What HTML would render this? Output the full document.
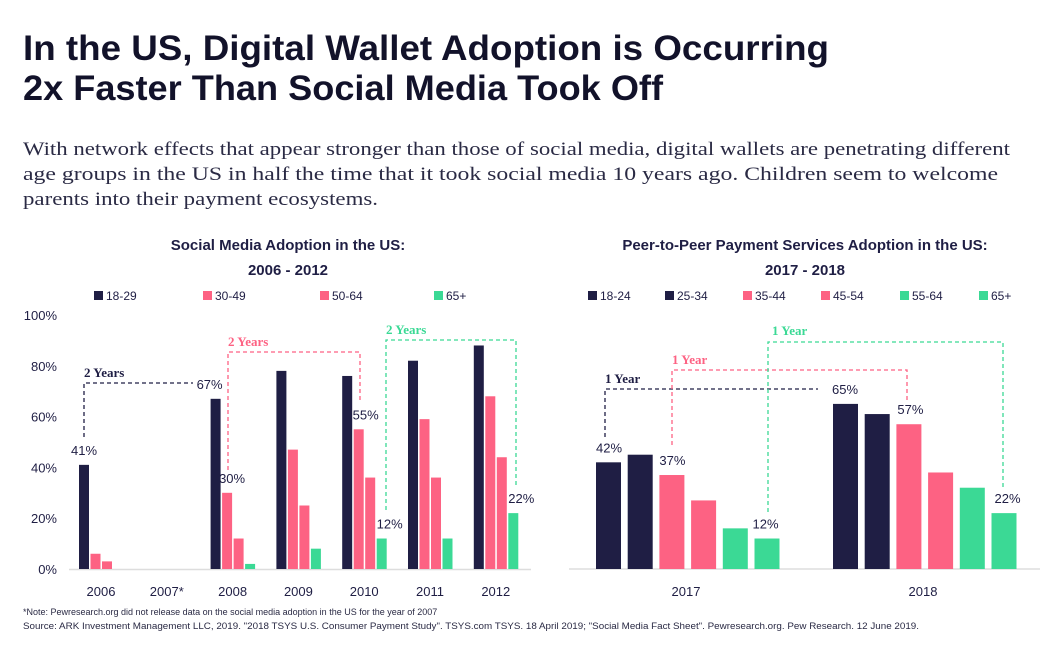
<!DOCTYPE html>
<html><head><meta charset="utf-8"><style>
html,body{margin:0;padding:0;background:#fff;}
svg{display:block;font-family:"Liberation Sans",sans-serif;}
</style></head><body>
<svg id="root" width="1051" height="648" viewBox="0 0 1051 648">
<g>
<text x="23" y="60" font-size="35" font-weight="bold" fill="#12122a" textLength="806" lengthAdjust="spacingAndGlyphs">In the US, Digital Wallet Adoption is Occurring</text>
<text x="23" y="100" font-size="35" font-weight="bold" fill="#12122a" textLength="640" lengthAdjust="spacingAndGlyphs">2x Faster Than Social Media Took Off</text>
<g font-family="Liberation Serif, serif" font-size="19" fill="#2a2a44">
<text x="23" y="155" textLength="987" lengthAdjust="spacingAndGlyphs">With network effects that appear stronger than those of social media, digital wallets are penetrating different</text>
<text x="23" y="180" textLength="975" lengthAdjust="spacingAndGlyphs">age groups in the US in half the time that it took social media 10 years ago. Children seem to welcome</text>
<text x="23" y="205" textLength="355" lengthAdjust="spacingAndGlyphs">parents into their payment ecosystems.</text>
</g></g>
<g font-size="15" font-weight="bold" fill="#1f1e44" text-anchor="middle">
<text x="288" y="250">Social Media Adoption in the US:</text>
<text x="288" y="275">2006 - 2012</text>
<text x="805" y="250">Peer-to-Peer Payment Services Adoption in the US:</text>
<text x="805" y="275">2017 - 2018</text>
</g>
<g font-size="9" fill="#2a2a44">
<text x="23" y="615">*Note: Pewresearch.org did not release data on the social media adoption in the US for the year of 2007</text>
<text x="23" y="629" textLength="896" lengthAdjust="spacingAndGlyphs">Source: ARK Investment Management LLC, 2019. "2018 TSYS U.S. Consumer Payment Study". TSYS.com TSYS. 18 April 2019; "Social Media Fact Sheet". Pewresearch.org. Pew Research. 12 June 2019.</text>
</g>
<g id="left"></g>
<g id="right"></g>
</svg>
<script>
const leftYears = ["2006","2007*","2008","2009","2010","2011","2012"];
const leftSeries = ["18-29","30-49","50-64","65+"];
const s1829 = [41,null,67,78,76,82,88];
const s3049 = [6,null,30,47,55,59,68];
const s5064 = [3,null,12,25,36,36,44];
const s65 = [null,null,2,8,12,12,22];
const yTicks = [0,20,40,60,80,100];
const rightYears = ["2017","2018"];
const rightSeries = ["18-24","25-34","35-44","45-54","55-64","65+"];
const r2017 = [42,45,37,27,16,12];
const r2018 = [65,61,57,38,32,22];

const DARK="#1f1e44", PINK="#fd6283", GREEN="#3bd995";
const NS="http://www.w3.org/2000/svg";
function mk(parent,tag,attrs,text){const e=document.createElementNS(NS,tag);for(const k in attrs)e.setAttribute(k,attrs[k]);if(text!=null)e.textContent=text;parent.appendChild(e);return e;}
const y0=569, pxPer=2.54;
function yS(v){return y0-v*pxPer;}

// LEFT
const L=document.getElementById('left');
const lCol=[DARK,PINK,PINK,GREEN];
const lData=[s1829,s3049,s5064,s65];
const lLegX=[94,203,320,434];
leftSeries.forEach((s,i)=>{
  const r=mk(L,'rect',{x:lLegX[i],y:291,width:9,height:9,fill:lCol[i]});
  
  
  const t=mk(L,'text',{x:lLegX[i]+12,y:300,'font-size':12,fill:DARK},s);
  
  
});
yTicks.forEach(v=>{
  const t=mk(L,'text',{x:57,y:yS(v)+5,'font-size':13,fill:DARK,'text-anchor':'end'},v+'%');
  
  
});
const ax=mk(L,'line',{x1:69,x2:531,y1:y0+0.5,y2:y0+0.5,stroke:'#ddd','stroke-width':1.5});


const gX=i=>79+i*65.8, bw=10, bstep=11.5;
leftYears.forEach((yr,i)=>{
  lData.forEach((arr,j)=>{
    const v=arr[i]; if(v==null) return;
    const r=mk(L,'rect',{x:gX(i)+j*bstep,y:yS(v),width:bw,height:v*pxPer,fill:lCol[j]});
    
    
  });
  const t=mk(L,'text',{x:gX(i)+22,y:596,'font-size':13,fill:DARK,'text-anchor':'middle'},yr);
  
  
});
function lbl(P,x,y,txt,name){const t=mk(P,'text',{x:x,y:y,'font-size':13,fill:DARK,'text-anchor':'middle'},txt);}
lbl(L,gX(0)+5,yS(s1829[0])-10,s1829[0]+'%','value-2006-18-29');
lbl(L,gX(2)-1,yS(s1829[2])-10,s1829[2]+'%','value-2008-18-29');
lbl(L,gX(2)+bstep+10,yS(s3049[2])-10,s3049[2]+'%','value-2008-30-49');
lbl(L,gX(4)+bstep+12,yS(s3049[4])-10,s3049[4]+'%','value-2010-30-49');
lbl(L,gX(4)+3*bstep+13,yS(s65[4])-10,s65[4]+'%','value-2010-65');
lbl(L,gX(6)+3*bstep+13,yS(s65[6])-10,s65[6]+'%','value-2012-65');
function bracket(P,pts,color,label,lx,ly,name){
  const p=mk(P,'polyline',{points:pts.map(q=>q.join(',')).join(' '),fill:'none',stroke:color,'stroke-width':1.3,'stroke-dasharray':'4,3'});
  
  
  const t=mk(P,'text',{x:lx,y:ly,'font-size':13,'font-weight':'bold','font-family':'Liberation Serif, serif',fill:color},label);
  
  
}
bracket(L,[[84,437],[84,383],[193,383]],DARK,'2 Years',84,377,'left-dark');
bracket(L,[[228,470],[228,352],[360,352],[360,400]],PINK,'2 Years',228,346,'left-pink');
bracket(L,[[386,510],[386,340],[516,340],[516,485]],GREEN,'2 Years',386,334,'left-green');

// RIGHT
const R=document.getElementById('right');
const rCol=[DARK,DARK,PINK,PINK,GREEN,GREEN];
const rLegX=[588,665,743,821,900,979];
rightSeries.forEach((s,i)=>{
  const r=mk(R,'rect',{x:rLegX[i],y:291,width:9,height:9,fill:rCol[i]});
  
  
  const t=mk(R,'text',{x:rLegX[i]+12,y:300,'font-size':12,fill:DARK},s);
  
  
});
const ax2=mk(R,'line',{x1:569,x2:1040,y1:y0,y2:y0,stroke:'#ddd','stroke-width':1.5});


const rData=[r2017,r2018];
const rgX=[596,833], rbw=25, rstep=31.7;
rightYears.forEach((yr,i)=>{
  rData[i].forEach((v,j)=>{
    const r=mk(R,'rect',{x:rgX[i]+j*rstep,y:yS(v),width:rbw,height:v*pxPer,fill:rCol[j]});
    
    
  });
  const t=mk(R,'text',{x:rgX[i]+90,y:596,'font-size':13,fill:DARK,'text-anchor':'middle'},yr);
  
  
});
lbl(R,rgX[0]+13,yS(r2017[0])-10,r2017[0]+'%','value-2017-18-24');
lbl(R,rgX[0]+2*rstep+13,yS(r2017[2])-10,r2017[2]+'%','value-2017-35-44');
lbl(R,rgX[0]+5*rstep+11,yS(r2017[5])-10,r2017[5]+'%','value-2017-65');
lbl(R,rgX[1]+12,yS(r2018[0])-10,r2018[0]+'%','value-2018-18-24');
lbl(R,rgX[1]+2*rstep+14,yS(r2018[2])-10,r2018[2]+'%','value-2018-35-44');
lbl(R,rgX[1]+5*rstep+16,yS(r2018[5])-10,r2018[5]+'%','value-2018-65');
bracket(R,[[605,437],[605,389],[818,389]],DARK,'1 Year',605,383,'right-dark');
bracket(R,[[672,445],[672,370],[907,370],[907,402]],PINK,'1 Year',672,364,'right-pink');
bracket(R,[[768,512],[768,342],[1003,342],[1003,490]],GREEN,'1 Year',772,335,'right-green');
</script>
</body></html>
